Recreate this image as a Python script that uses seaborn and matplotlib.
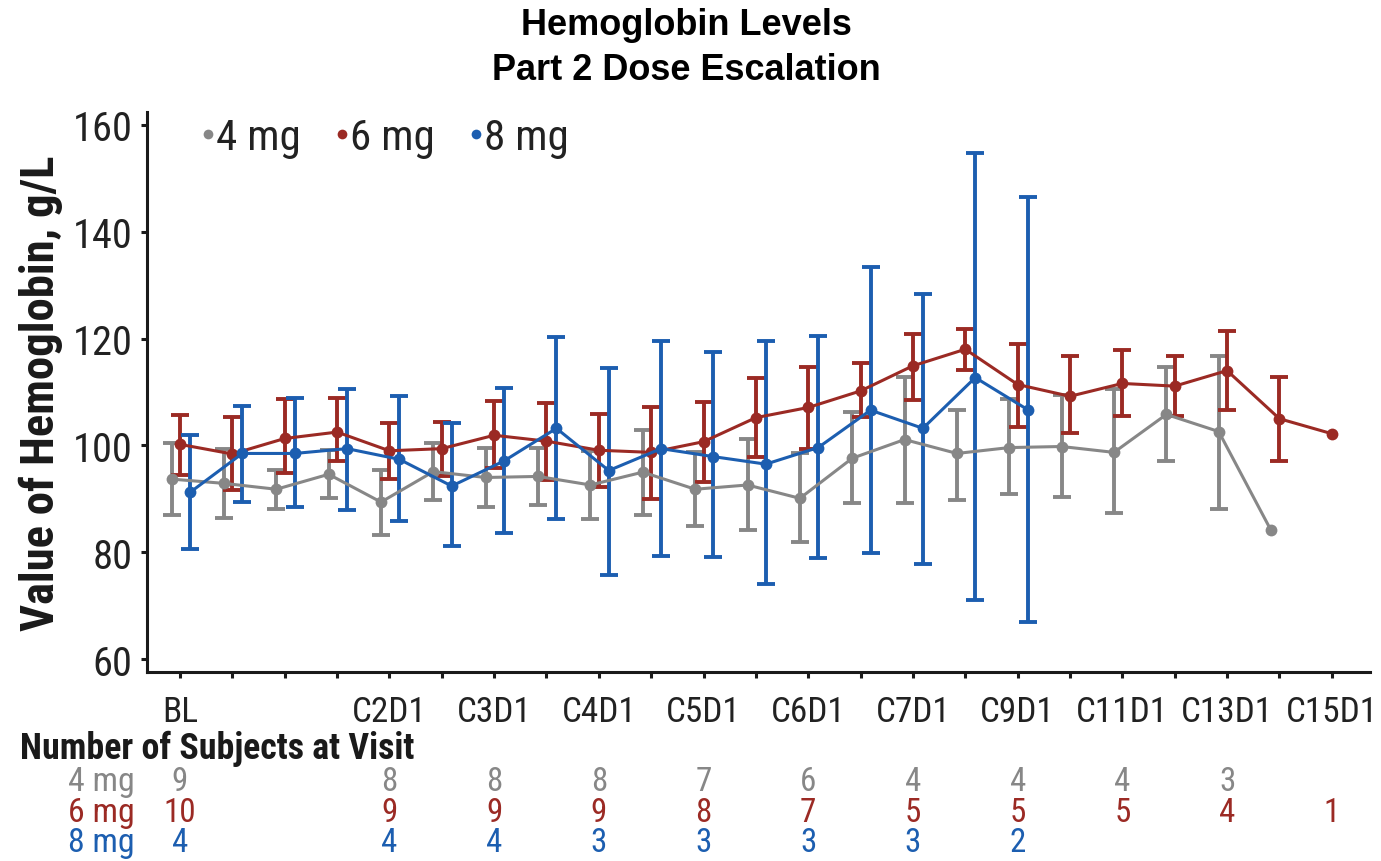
import numpy as np
import pandas as pd
import matplotlib
matplotlib.use("Agg")
import matplotlib.pyplot as plt
import matplotlib.transforms as mtransforms
from matplotlib.lines import Line2D
from matplotlib import font_manager
import seaborn as sns

# ---- data -------------------------------------------------------------
visits = ["BL", "", "", "", "C2D1", "", "C3D1", "", "C4D1", "", "C5D1", "",
          "C6D1", "", "C7D1", "", "C9D1", "", "C11D1", "", "C13D1", "", "C15D1"]

doses = ["4 mg", "6 mg", "8 mg"]

mean_4mg = [93.7, 92.9, 91.8, 94.6, 89.4, 95.1, 94.0, 94.2, 92.6, 95.0, 91.8,
            92.6, 90.1, 97.6, 101.1, 98.5, 99.6, 99.8, 98.7, 105.8, 102.6, 84.1]
low_4mg = [86.9, 86.4, 88.1, 90.1, 83.3, 89.7, 88.4, 88.9, 86.3, 86.9, 84.9,
           84.2, 82.0, 89.3, 89.3, 89.7, 90.9, 90.3, 87.4, 97.0, 88.1, np.nan]
high_4mg = [100.4, 99.4, 95.4, 99.1, 95.4, 100.4, 99.6, 99.6, 98.9, 102.9, 98.7,
            101.2, 98.5, 106.3, 112.9, 106.6, 108.6, 109.4, 110.6, 114.7, 116.7, np.nan]

mean_6mg = [100.2, 98.4, 101.3, 102.5, 99.0, 99.4, 101.9, 100.8, 99.1, 98.7, 100.7,
            105.2, 107.1, 110.2, 114.9, 118.0, 111.4, 109.2, 111.6, 111.1, 114.0, 105.0, 102.2]
low_6mg = [94.5, 91.7, 94.8, 97.0, 93.7, 94.2, 95.7, 93.5, 92.3, 89.9, 93.2,
           97.9, 99.4, 105.4, 108.5, 114.1, 103.5, 102.4, 105.5, 105.5, 106.7, 97.0, np.nan]
high_6mg = [105.7, 105.3, 108.6, 108.8, 104.2, 104.4, 108.3, 108.0, 105.8, 107.2, 108.1,
            112.7, 114.7, 115.4, 120.9, 121.8, 118.9, 116.7, 117.8, 116.7, 121.4, 112.8, np.nan]

mean_8mg = [91.2, 98.5, 98.5, 99.4, 97.4, 92.4, 97.1, 103.2, 95.3, 99.4, 97.9,
            96.5, 99.6, 106.6, 103.2, 112.7, 106.7]
low_8mg = [80.6, 89.5, 88.4, 87.9, 85.9, 81.1, 83.6, 86.2, 75.8, 79.3, 79.1,
           74.1, 79.0, 79.9, 77.8, 71.0, 67.0]
high_8mg = [101.9, 107.4, 108.8, 110.5, 109.2, 104.2, 110.8, 120.3, 114.4, 119.6, 117.5,
            119.6, 120.4, 133.3, 128.4, 154.8, 146.5]

# subjects at each labelled visit
count_visits = ["BL", "C2D1", "C3D1", "C4D1", "C5D1", "C6D1", "C7D1", "C9D1",
                "C11D1", "C13D1", "C15D1"]
n_4mg = [9, 8, 8, 8, 7, 6, 4, 4, 4, 3]
n_6mg = [10, 9, 9, 9, 8, 7, 5, 5, 5, 4, 1]
n_8mg = [4, 4, 4, 3, 3, 3, 3, 2]

# ---- styling ----------------------------------------------------------
colors = {"4 mg": "#878787", "6 mg": "#9b2a24", "8 mg": "#1c5eb0"}
offsets = {"4 mg": -0.16, "6 mg": 0.0, "8 mg": 0.19}

sns.set_theme(style="ticks")

# pick a narrow sans for the axis text when one is installed
ttf = font_manager.fontManager.ttflist
condensed = {"condensed", "semi-condensed", "extra-condensed", "ultra-condensed"}
choices = [  # (family, stretch, width relative to Arial)
    ("Liberation Sans Narrow", "normal", 0.82),
    ("Roboto Condensed", "normal", 0.84),
    ("Noto Sans", "condensed", 0.90),
    ("Open Sans", "condensed", 0.90),
    ("DejaVu Sans", "condensed", 0.98),
]
family, stretch, width = "Liberation Sans", "normal", 1.0
for fam, st, w in choices:
    if any(f.name == fam and (st == "normal" or str(f.stretch) in condensed) for f in ttf):
        family, stretch, width = fam, st, w
        break
scale = 1.0 / width
plt.rcParams["font.family"] = [family, "DejaVu Sans"]
plt.rcParams["font.stretch"] = stretch


def fs(size):
    return size * scale


series = {
    "4 mg": (mean_4mg, low_4mg, high_4mg),
    "6 mg": (mean_6mg, low_6mg, high_6mg),
    "8 mg": (mean_8mg, low_8mg, high_8mg),
}

frames = []
for dose in doses:
    m, lo, hi = series[dose]
    pos = np.arange(len(m))
    frames.append(pd.DataFrame({"dose": dose, "pos": pos, "x": pos + offsets[dose],
                                "mean": m, "low": lo, "high": hi}))
df = pd.concat(frames, ignore_index=True)

fig = plt.figure(figsize=(13.81, 8.62), dpi=100)
ax = fig.add_axes([147 / 1381, 1 - 673 / 862, (1370 - 147) / 1381, (673 - 113) / 862])

# error bars underneath the lines
for dose in doses:
    d = df[(df.dose == dose) & df.low.notna()]
    ax.errorbar(d.x, d["mean"], yerr=[d["mean"] - d.low, d.high - d["mean"]],
                fmt="none", ecolor=colors[dose], elinewidth=2.8, capsize=6.8,
                capthick=2.8, zorder=2)

sns.lineplot(data=df, x="x", y="mean", hue="dose", hue_order=doses,
             palette=colors, marker="o", markersize=8.5, markeredgewidth=0,
             linewidth=2.2, errorbar=None, legend=False, ax=ax, zorder=3)

ax.set_xlim(-0.63, 22.73)
ax.set_ylim(57.6, 162.4)
ax.set_xticks(np.arange(len(visits)))
ax.set_xticklabels(visits, fontsize=fs(21.3))
ax.set_yticks([60, 80, 100, 120, 140, 160])
ax.tick_params(axis="y", labelsize=fs(24.5), pad=6)
ax.tick_params(axis="x", pad=12)
ax.tick_params(axis="both", length=4.5, width=2.2, color="#1a1a1a", labelcolor="#222222")
ax.set_xlabel("")
ax.set_ylabel("Value of Hemoglobin, g/L", fontsize=fs(28.3), fontweight="bold", color="#1a1a1a")
ax.yaxis.set_label_coords(-0.069, 0.50)
for side in ["top", "right"]:
    ax.spines[side].set_visible(False)
for side in ["left", "bottom"]:
    ax.spines[side].set_linewidth(2.2)
    ax.spines[side].set_color("#1a1a1a")

handles = [Line2D([], [], marker="o", linestyle="none", markersize=7,
                  markeredgewidth=0, color=colors[d]) for d in doses]
ax.legend(handles, doses, loc="center left", bbox_to_anchor=(0.0438, 0.955),
          ncol=3, frameon=False, fontsize=fs(26), handlelength=0.35, handletextpad=0.0,
          columnspacing=0.8, borderpad=0, borderaxespad=0, labelcolor="#222222")

fig.suptitle("Hemoglobin Levels\nPart 2 Dose Escalation", x=0.497, y=1 - 8 / 862,
             va="top", fontsize=26, fontweight="bold", family="Liberation Sans",
             stretch="normal", linespacing=1.37, color="black")

# subjects-at-visit table
fig.text(20 / 1381, 1 - 749 / 862, "Number of Subjects at Visit", fontsize=fs(21.7),
         fontweight="bold", ha="left", va="center", color="#1a1a1a")
trans = mtransforms.blended_transform_factory(ax.transData, fig.transFigure)
label_pos = {v: i for i, v in enumerate(visits) if v}
rows = [("4 mg", n_4mg, 782), ("6 mg", n_6mg, 813), ("8 mg", n_8mg, 843)]
for dose, counts, ypix in rows:
    y = 1 - ypix / 862
    fig.text(135 / 1381, y, dose, fontsize=fs(20.5), ha="right", va="center", color=colors[dose])
    for visit, n in zip(count_visits, counts):
        ax.text(label_pos[visit], y, str(n), transform=trans, fontsize=fs(20),
                ha="center", va="center", color=colors[dose], clip_on=False)

fig.savefig("out.png", dpi=100)
